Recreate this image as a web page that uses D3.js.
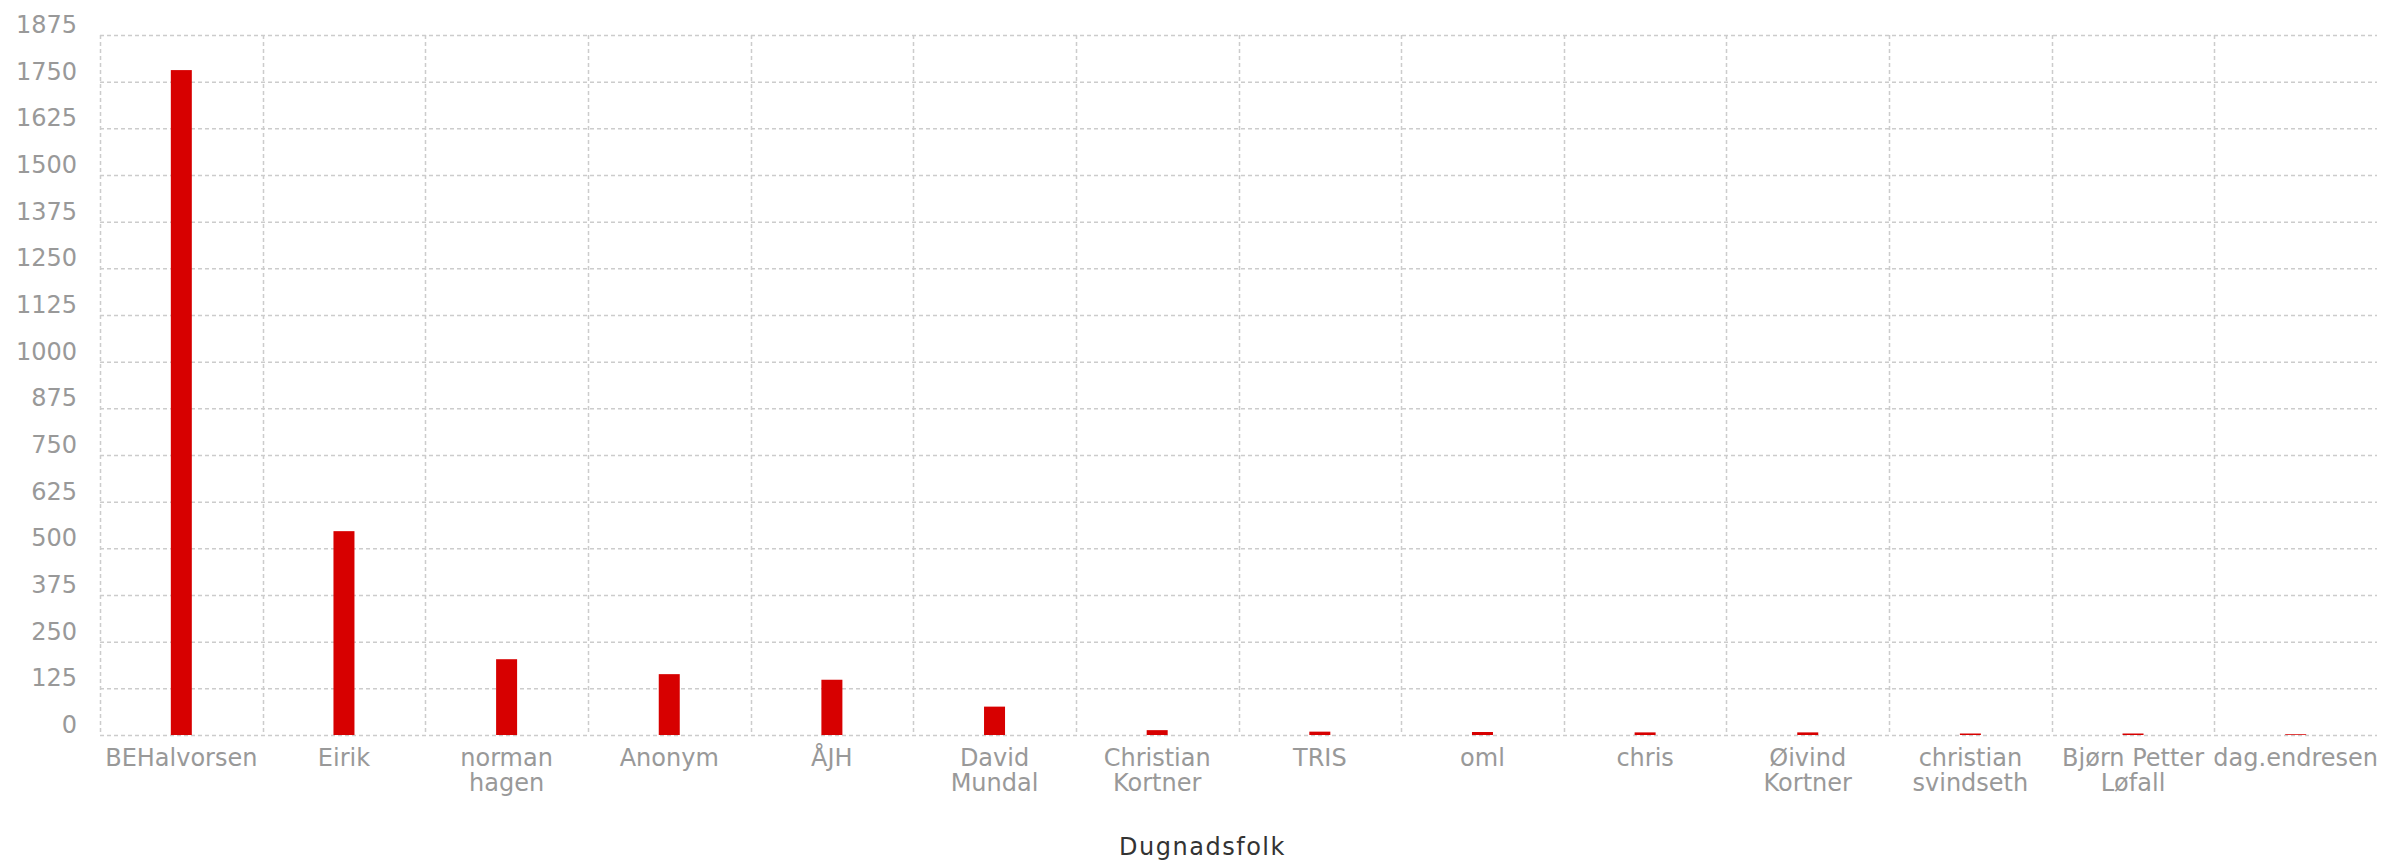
<!DOCTYPE html>
<html>
<head>
<meta charset="utf-8">
<script src="https://cdn.jsdelivr.net/npm/d3@7"></script>
<style>
  html, body { margin: 0; padding: 0; background: #fff; }
  svg { display: block; }
</style>
</head>
<body>
<svg id="chart" width="2405" height="865"></svg>
<script>
const categories = ["BEHalvorsen", "Eirik", "norman hagen", "Anonym", "ÅJH", "David Mundal",
  "Christian Kortner", "TRIS", "oml", "chris", "Øivind Kortner", "christian svindseth",
  "Bjørn Petter Løfall", "dag.endresen"];
const values = [1781, 546, 203, 163, 148, 76, 13, 9, 8, 7, 7, 4, 4, 2];
const yTicks = [0, 125, 250, 375, 500, 625, 750, 875, 1000, 1125, 1250, 1375, 1500, 1625, 1750, 1875];
const xTitle = "Dugnadsfolk";

const W = 2405, H = 865;
const margin = { left: 100, right: 28, top: 35, bottom: 130 };
const svg = d3.select("#chart");
const font = "'DejaVu Sans', Verdana, sans-serif";
const labelColor = "#999999";
const gridColor = "#cccccc";

const x = d3.scaleBand().domain(categories).range([margin.left, W - margin.right]).padding(0);
const y = d3.scaleLinear().domain([0, 1875]).range([H - margin.bottom, margin.top]);

// horizontal grid
svg.append("g").selectAll("line").data(yTicks).join("line")
  .attr("x1", margin.left).attr("x2", W - margin.right)
  .attr("y1", d => y(d) + 0.5).attr("y2", d => y(d) + 0.5)
  .attr("stroke", gridColor).attr("stroke-width", 1.5).attr("stroke-dasharray", "4,3");

// vertical grid at band starts
svg.append("g").selectAll("line").data(categories).join("line")
  .attr("x1", d => Math.round(x(d)) + 0.5).attr("x2", d => Math.round(x(d)) + 0.5)
  .attr("y1", y(1875)).attr("y2", y(0))
  .attr("stroke", gridColor).attr("stroke-width", 1.5).attr("stroke-dasharray", "4,3");

// y labels
svg.append("g").selectAll("text").data(yTicks).join("text")
  .attr("x", 77).attr("y", d => y(d) - 2)
  .attr("text-anchor", "end")
  .attr("font-family", font).attr("font-size", 24).attr("fill", labelColor)
  .text(d => d);

// bars
const barW = 21;
svg.append("g").selectAll("rect").data(categories).join("rect")
  .attr("x", (d) => x(d) + x.bandwidth() / 2 - barW / 2)
  .attr("width", barW)
  .attr("y", (d, i) => y(values[i]))
  .attr("height", (d, i) => y(0) - y(values[i]))
  .attr("fill", "#d70000");

// x labels with wrapping
const xl = svg.append("g");
categories.forEach(cat => {
  const cx = x(cat) + x.bandwidth() / 2;
  const t = xl.append("text")
    .attr("x", cx).attr("y", 766)
    .attr("text-anchor", "middle")
    .attr("font-family", font).attr("font-size", 24).attr("fill", labelColor);
  const words = cat.split(" ");
  let line = [];
  let lineNo = 0;
  let tspan = t.append("tspan").attr("x", cx).attr("y", 766);
  words.forEach(w => {
    line.push(w);
    tspan.text(line.join(" "));
    if (tspan.node().getComputedTextLength() > x.bandwidth() - 4 && line.length > 1) {
      line.pop();
      tspan.text(line.join(" "));
      line = [w];
      lineNo++;
      tspan = t.append("tspan").attr("x", cx).attr("y", 766 + lineNo * 25).text(w);
    }
  });
});

// x title
svg.append("text")
  .attr("x", W / 2).attr("y", 855)
  .attr("text-anchor", "middle")
  .attr("font-family", font).attr("font-size", 24).attr("fill", "#333333")
  .attr("letter-spacing", 1.5)
  .text(xTitle);
</script>
</body>
</html>
